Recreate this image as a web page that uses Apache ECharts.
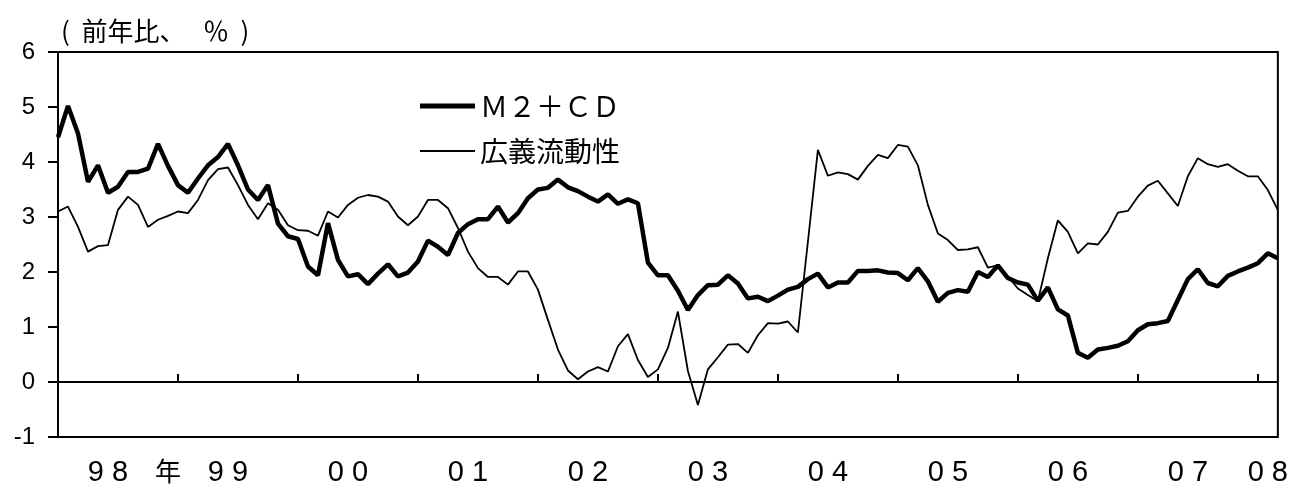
<!DOCTYPE html>
<html>
<head>
<meta charset="utf-8">
<script src="https://cdn.jsdelivr.net/npm/echarts@6/dist/echarts.min.js"></script>
<style>
html,body{margin:0;padding:0;background:#fff;}
#chart{width:1291px;height:488px;}
</style>
</head>
<body>
<div id="chart"></div>
<script>
// Monthly categories, Jan 1998 .. Mar 2008
const months = [];
for (let y = 1998; y <= 2008; y++) {
  for (let m = 1; m <= 12; m++) {
    if (y === 2008 && m > 3) break;
    months.push(y + '-' + (m < 10 ? '0' + m : '' + m));
  }
}

// M2+CD, year-on-year %
const m2cd = [
  4.45, 5.02, 4.52, 3.64, 3.94, 3.44, 3.55, 3.82, 3.82, 3.88, 4.33, 3.93,
  3.58, 3.44, 3.70, 3.94, 4.09, 4.33, 3.94, 3.50, 3.31, 3.58, 2.88, 2.65,
  2.60, 2.10, 1.94, 2.89, 2.22, 1.92, 1.96, 1.78, 1.97, 2.14, 1.92, 1.99,
  2.19, 2.57, 2.46, 2.31, 2.71, 2.87, 2.96, 2.96, 3.19, 2.90, 3.07, 3.34,
  3.50, 3.53, 3.68, 3.54, 3.47, 3.37, 3.28, 3.41, 3.24, 3.32, 3.25, 2.17,
  1.94, 1.94, 1.66, 1.31, 1.58, 1.76, 1.77, 1.94, 1.79, 1.52, 1.55, 1.47,
  1.57, 1.68, 1.73, 1.87, 1.97, 1.72, 1.81, 1.81, 2.02, 2.02, 2.03, 1.99,
  1.98, 1.85, 2.07, 1.83, 1.46, 1.62, 1.67, 1.64, 2.00, 1.91, 2.12, 1.89,
  1.81, 1.77, 1.48, 1.72, 1.32, 1.21, 0.53, 0.44, 0.59, 0.62, 0.66, 0.74,
  0.94, 1.05, 1.07, 1.11, 1.49, 1.87, 2.05, 1.80, 1.74, 1.93, 2.01, 2.08,
  2.16, 2.34, 2.25
];

// 広義流動性, year-on-year %
const broadLiquidity = [
  3.10, 3.19, 2.82, 2.37, 2.47, 2.49, 3.13, 3.37, 3.22, 2.82, 2.95, 3.02,
  3.10, 3.07, 3.31, 3.67, 3.87, 3.90, 3.58, 3.22, 2.96, 3.25, 3.13, 2.85,
  2.76, 2.75, 2.66, 3.10, 2.99, 3.22, 3.35, 3.40, 3.37, 3.28, 3.01, 2.85,
  3.01, 3.31, 3.31, 3.16, 2.80, 2.37, 2.07, 1.91, 1.91, 1.77, 2.01, 2.01,
  1.68, 1.13, 0.59, 0.21, 0.05, 0.19, 0.27, 0.19, 0.65, 0.87, 0.40, 0.09,
  0.23, 0.62, 1.28, 0.20, -0.42, 0.23, 0.45, 0.68, 0.69, 0.53, 0.85, 1.07,
  1.06, 1.10, 0.90, 2.55, 4.22, 3.75, 3.81, 3.78, 3.68, 3.93, 4.13, 4.07,
  4.31, 4.28, 3.94, 3.22, 2.70, 2.58, 2.40, 2.41, 2.45, 2.08, 2.12, 1.92,
  1.70, 1.58, 1.47, 2.25, 2.94, 2.73, 2.34, 2.52, 2.50, 2.73, 3.08, 3.11,
  3.37, 3.57, 3.66, 3.43, 3.20, 3.74, 4.07, 3.96, 3.91, 3.96, 3.84, 3.74,
  3.74, 3.49, 3.13
];

// x tick labels and the month each one sits under
const xTickLabels = ['9 8', '年', '9 9', '0 0', '0 1', '0 2', '0 3', '0 4', '0 5', '0 6', '0 7', '0 8'];
const xTickLabelMonths = ['1998-06', '1998-12', '1999-06', '2000-06', '2001-06', '2002-06',
  '2003-06', '2004-06', '2005-06', '2006-06', '2007-06', '2008-02'];

const yearStartMonth = '-01';

const seriesNames = ['Ｍ２＋ＣＤ', '広義流動性'];
const unitLabel = '(  前年比、   ％  )';

const labelAt = {};
xTickLabelMonths.forEach((m, k) => { labelAt[months.indexOf(m)] = xTickLabels[k]; });

const legendText = {fontFamily: 'Noto Sans CJK JP', fontSize: 28, color: '#000', lineHeight: 30};

const chart = echarts.init(document.getElementById('chart'), null, {renderer: 'canvas'});
chart.setOption({
  animation: false,
  backgroundColor: '#fff',
  graphic: [
    {
      type: 'text',
      x: 61, y: 31,
      style: {
        text: unitLabel,
        fontFamily: 'Noto Sans CJK JP', fontSize: 26, fill: '#000',
        verticalAlign: 'middle', align: 'left'
      }
    }
  ],
  legend: [
    {
      orient: 'vertical', left: 415, top: 86,
      itemWidth: 55, itemHeight: 5, icon: 'rect',
      itemStyle: {color: '#000', borderWidth: 0},
      textStyle: legendText,
      data: [seriesNames[0]]
    },
    {
      orient: 'vertical', left: 415, top: 131,
      itemWidth: 55, itemHeight: 2, icon: 'rect',
      itemStyle: {color: '#000', borderWidth: 0},
      textStyle: legendText,
      data: [seriesNames[1]]
    }
  ],
  grid: {
    left: 58, top: 52, right: 10, bottom: 51,
    show: true, borderColor: '#000', borderWidth: 2, backgroundColor: 'transparent'
  },
  xAxis: {
    type: 'category',
    data: months,
    boundaryGap: false,
    axisLine: {lineStyle: {color: '#000', width: 2}},
    axisTick: {
      show: true, inside: true, length: 8,
      interval: (i, v) => v.endsWith(yearStartMonth),
      lineStyle: {color: '#000', width: 2}
    },
    axisLabel: {
      interval: (i) => labelAt[i] !== undefined,
      formatter: (v, i) => {
        const t = labelAt[i] || '';
        return /[0-9]/.test(t) ? '{d|' + t + '}' : '{k|' + t + '}';
      },
      rich: {
        d: {fontFamily: 'Liberation Sans Narrow, Liberation Sans', fontSize: 29, color: '#000'},
        k: {fontFamily: 'Noto Sans CJK JP', fontSize: 26, color: '#000'}
      },
      color: '#000',
      margin: 21
    },
    splitLine: {show: false}
  },
  yAxis: {
    type: 'value',
    min: -1, max: 6, interval: 1,
    axisLine: {show: true, lineStyle: {color: '#000', width: 2}},
    axisTick: {show: true, length: 10, lineStyle: {color: '#000', width: 2}},
    axisLabel: {color: '#000', fontFamily: 'Liberation Sans', fontSize: 24, margin: 23},
    splitLine: {show: false}
  },
  series: [
    {
      name: seriesNames[0],
      type: 'line',
      data: m2cd,
      symbol: 'none',
      lineStyle: {color: '#000', width: 4.5},
      itemStyle: {color: '#000'},
      z: 3
    },
    {
      name: seriesNames[1],
      type: 'line',
      data: broadLiquidity,
      symbol: 'none',
      lineStyle: {color: '#000', width: 1.8},
      itemStyle: {color: '#000'},
      z: 2,
      markLine: {
        silent: true,
        symbol: ['none', 'none'],
        label: {show: false},
        lineStyle: {color: '#000', width: 1.5, type: 'solid'},
        data: [{yAxis: 0}]
      }
    }
  ]
});
</script>
</body>
</html>
